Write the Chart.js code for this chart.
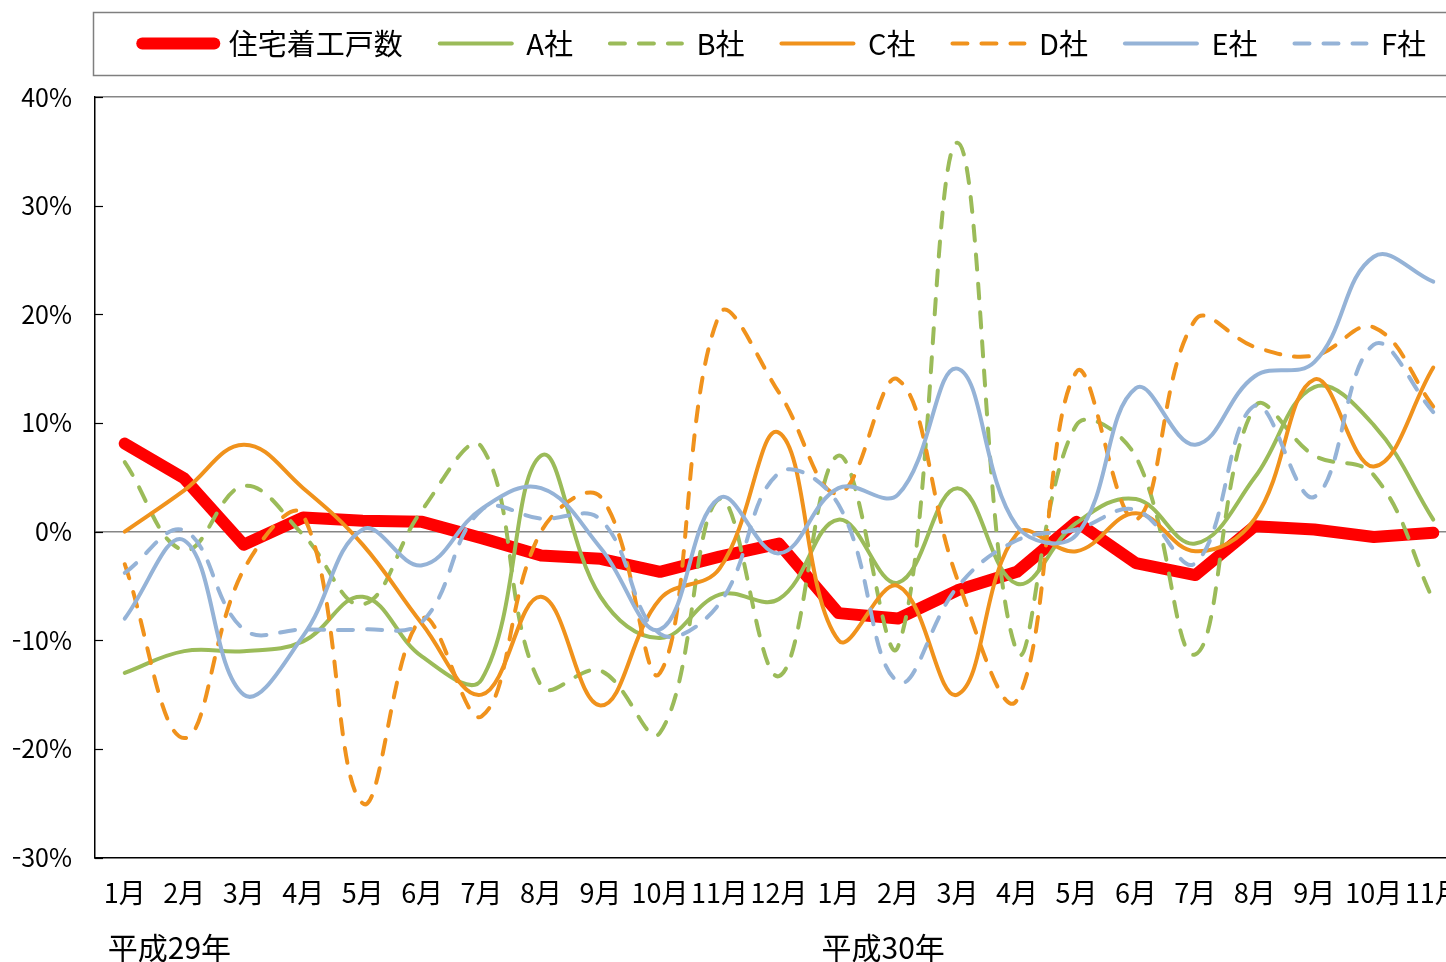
<!DOCTYPE html>
<html lang="ja">
<head>
<meta charset="utf-8">
<title>住宅着工戸数</title>
<script src="https://cdn.jsdelivr.net/npm/chart.js@4/dist/chart.umd.min.js"></script>
<style>
    html, body { margin: 0; padding: 0; background: #fff; overflow: hidden; }
    #wrap { position: absolute; left: 0; top: 0; width: 1466px; height: 962px; }
</style>
</head>
<body>
<div id="wrap"><canvas id="startsChart"></canvas></div>
<script>
// months: H29 1-12, H30 1-11
const months = ['1月', '2月', '3月', '4月', '5月', '6月', '7月', '8月', '9月', '10月', '11月', '12月',
                '1月', '2月', '3月', '4月', '5月', '6月', '7月', '8月', '9月', '10月', '11月'];
const eraLabels = ['平成29年', '平成30年'];
const eraStart = [0, 12];
const yTicks = [-30, -20, -10, 0, 10, 20, 30, 40];

const housingStarts = [8.1, 4.9, -1.2, 1.3, 1.0, 0.9, -0.6, -2.2, -2.5, -3.7, -2.3, -1.1,
                       -7.5, -8.0, -5.4, -3.7, 0.9, -2.9, -4.0, 0.5, 0.2, -0.5, -0.1];
const firmA = [-13.0, -11.0, -11.0, -10.1, -6.0, -11.5, -13.6, 7.0, -6.0, -9.8, -5.8, -6.2,
               1.1, -4.7, 4.0, -4.8, 0.8, 3.0, -1.1, 5.0, 13.3, 9.8, 1.1];
const firmB = [6.4, -1.7, 4.2, -0.3, -6.7, 2.0, 7.8, -14.2, -12.8, -18.5, 3.0, -13.3,
               7.0, -10.6, 35.8, -11.0, 9.8, 6.9, -11.3, 11.5, 7.0, 5.2, -6.3];
const firmC = [0.0, 3.8, 8.0, 4.0, -1.2, -8.5, -15.0, -6.0, -16.0, -6.2, -3.4, 9.1,
               -10.0, -5.0, -15.0, -0.2, -1.8, 1.7, -1.8, 1.2, 14.0, 6.0, 15.1];
const firmD = [-3.0, -19.0, -3.5, 1.5, -25.0, -8.0, -17.0, 0.0, 3.2, -13.0, 20.0, 12.8,
               3.5, 14.0, -4.4, -15.5, 14.7, 1.1, 19.5, 17.0, 16.2, 18.8, 11.5];
const firmE = [-8.0, -0.8, -15.0, -9.6, 0.2, -3.1, 2.1, 4.0, -1.5, -9.0, 3.1, -2.0,
               4.0, 3.4, 15.0, 0.5, -0.3, 13.2, 8.0, 14.3, 15.6, 25.3, 23.0];
const firmF = [-3.8, 0.1, -9.0, -9.0, -9.0, -8.3, 2.0, 1.2, 1.1, -9.4, -6.6, 5.4,
               2.5, -13.8, -5.1, -0.8, 0.2, 2.0, -2.9, 11.6, 3.2, 17.2, 11.0];

const RED = '#ff0000';
const GREEN = '#9bbb59';
const ORANGE = '#f0921c';
const BLUE = '#95b3d7';
const FONT = '"Noto Sans CJK JP", "Noto Sans", sans-serif';
const dash = [15, 14];

function firmLine(label, data, color, dashed, order) {
    return {
        label: label,
        data: data,
        borderColor: color,
        backgroundColor: color,
        borderWidth: 4,
        borderDash: dashed ? dash : [],
        borderCapStyle: 'round',
        tension: 0.4,
        pointRadius: 0,
        fill: false,
        order: order
    };
}

// legend needs more room below it
const legendMargin = {
    id: 'legendMargin',
    beforeInit(chart) {
        const fitValue = chart.legend.fit;
        chart.legend.fit = function fit() {
            fitValue.bind(chart.legend)();
            this.height += 29;
        };
    }
};

// legend frame, inner y ticks, era labels under the axis
const decorations = {
    id: 'decorations',
    afterDraw(chart) {
        const ctx = chart.ctx;
        const x = chart.scales.x;
        const y = chart.scales.y;
        ctx.save();
        ctx.strokeStyle = '#7f7f7f';
        ctx.lineWidth = 1.5;
        ctx.strokeRect(93.5, 12.5, 1400, 63);

        ctx.strokeStyle = '#000';
        ctx.lineWidth = 1.2;
        yTicks.forEach(v => {
            const py = Math.round(y.getPixelForValue(v)) + 0.5;
            ctx.beginPath();
            ctx.moveTo(chart.chartArea.left, py);
            ctx.lineTo(chart.chartArea.left + 8, py);
            ctx.stroke();
        });

        ctx.fillStyle = '#000';
        ctx.font = '30px ' + FONT;
        ctx.textAlign = 'left';
        ctx.textBaseline = 'middle';
        eraLabels.forEach((t, i) => {
            ctx.fillText(t, x.getPixelForValue(eraStart[i]) - 17, 948);
        });
        ctx.restore();
    }
};

const ctx = document.getElementById('startsChart').getContext('2d');
new Chart(ctx, {
    type: 'line',
    data: {
        labels: months,
        datasets: [
            {
                label: '住宅着工戸数',
                data: housingStarts,
                borderColor: RED,
                backgroundColor: RED,
                borderWidth: 12,
                borderCapStyle: 'round',
                borderJoinStyle: 'round',
                tension: 0,
                pointRadius: 0,
                fill: false,
                order: 7
            },
            firmLine('A社', firmA, GREEN, false, 6),
            firmLine('B社', firmB, GREEN, true, 5),
            firmLine('C社', firmC, ORANGE, false, 4),
            firmLine('D社', firmD, ORANGE, true, 3),
            firmLine('E社', firmE, BLUE, false, 2),
            firmLine('F社', firmF, BLUE, true, 1)
        ]
    },
    options: {
        responsive: true,
        maintainAspectRatio: false,
        animation: false,
        layout: {
            padding: { top: -8, left: 13, right: 3, bottom: 53 }
        },
        plugins: {
            legend: {
                position: 'top',
                align: 'end',
                labels: {
                    usePointStyle: true,
                    pointStyle: 'line',
                    pointStyleWidth: 72,
                    padding: 37,
                    color: '#000',
                    font: { family: FONT, size: 29 },
                    generateLabels: function(chart) {
                        const items = Chart.defaults.plugins.legend.labels.generateLabels(chart);
                        items.forEach(item => {
                            const ds = chart.data.datasets[item.datasetIndex];
                            item.lineDash = ds.borderDash || [];
                            item.lineCap = ds.borderCapStyle;
                            item.lineWidth = ds.borderWidth;
                        });
                        return items;
                    },
                    sort: (a, b) => a.datasetIndex - b.datasetIndex
                }
            },
            tooltip: { enabled: false }
        },
        scales: {
            x: {
                offset: true,
                grid: {
                    display: true,
                    drawOnChartArea: false,
                    drawTicks: true,
                    tickLength: 19,
                    tickColor: 'rgba(0,0,0,0)'
                },
                border: { color: '#000', width: 1.5 },
                ticks: {
                    autoSkip: false,
                    maxRotation: 0,
                    padding: 0,
                    color: '#000',
                    font: { family: FONT, size: 27 }
                }
            },
            y: {
                min: -30,
                max: 40,
                afterFit: function(scale) {
                    scale.width = 82;
                },
                grid: {
                    drawTicks: false,
                    lineWidth: 1.5,
                    color: c => (c.tick.value === 0 || c.tick.value === 40) ? '#868686' : 'rgba(0,0,0,0)'
                },
                border: { color: '#000', width: 1.5 },
                ticks: {
                    stepSize: 10,
                    padding: 23,
                    color: '#000',
                    font: { family: FONT, size: 25 },
                    callback: function(v) {
                        return (v < 0 ? '−' : '') + Math.abs(v) + '%';
                    }
                }
            }
        }
    },
    plugins: [legendMargin, decorations]
});
</script>
</body>
</html>
